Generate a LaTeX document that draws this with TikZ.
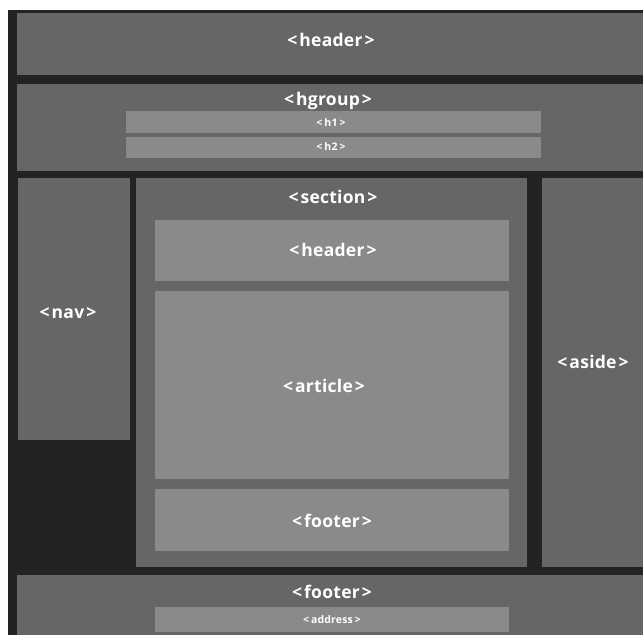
\documentclass[tikz,border=0pt]{standalone}
\usepackage{fontspec}
\setmainfont{Open Sans}
\newfontfamily\tagfont{Open Sans}[LetterSpace=1.5]
\definecolor{frame}{HTML}{232323}
\definecolor{outerbox}{HTML}{666666}
\definecolor{innerbox}{HTML}{8A8A8A}
% an HTML element name in angle brackets
\newcommand{\htmltag}[1]{<\kern2pt#1\kern2pt>}
\begin{document}
\begin{tikzpicture}[x=1pt,y=-1pt,
  box/.style={rectangle, draw=none, inner sep=0pt, anchor=north west},
  outer/.style={box, fill=outerbox},
  inner/.style={box, fill=innerbox},
  caption/.style={text=white, inner sep=0pt, font=\tagfont\fontsize{17.5}{20}\selectfont\bfseries},
  smallcap/.style={text=white, inner sep=0pt, font=\tagfont\fontsize{10.5}{12}\selectfont\bfseries}]
  % page and dark frame
  \useasboundingbox (0,0) rectangle (643,635);
  \fill[white] (0,0) rectangle (643,635);
  \fill[frame] (8,10) rectangle (643,635);

  % page header
  \node[outer, minimum width=626pt, minimum height=62pt] (header) at (17,13) {};
  \node[caption] (headercap) at (331,40) {\htmltag{header}};

  % hgroup with h1 / h2
  \node[outer, minimum width=626pt, minimum height=87pt] (hgroup) at (17,84) {};
  \node[caption] (hgroupcap) at (328,101) {\htmltag{hgroup}};
  \node[inner, minimum width=415pt, minimum height=22pt] (h1) at (126,111) {};
  \node[smallcap] (h1cap) at (331,123) {\htmltag{h1}};
  \node[inner, minimum width=415pt, minimum height=21pt] (h2) at (126,137) {};
  \node[smallcap] (h2cap) at (331,147) {\htmltag{h2}};

  % navigation column
  \node[outer, minimum width=112pt, minimum height=262pt] (nav) at (18,178) {};
  \node[caption] (navcap) at (68,313) {\htmltag{nav}};

  % section with its own header, article and footer
  \node[outer, minimum width=391pt, minimum height=389pt] (section) at (136,178) {};
  \node[caption] (sectioncap) at (333,197) {\htmltag{section}};
  \node[inner, minimum width=354pt, minimum height=61pt] (sheader) at (155,220) {};
  \node[caption] (sheadercap) at (333,250) {\htmltag{header}};
  \node[inner, minimum width=354pt, minimum height=188pt] (article) at (155,291) {};
  \node[caption] (articlecap) at (324,386) {\htmltag{article}};
  \node[inner, minimum width=354pt, minimum height=62pt] (sfooter) at (155,489) {};
  \node[caption] (sfootercap) at (332,521) {\htmltag{footer}};

  % aside column
  \node[outer, minimum width=101pt, minimum height=389pt] (aside) at (542,178) {};
  \node[caption] (asidecap) at (593,362) {\htmltag{aside}};

  % page footer with address
  \node[outer, minimum width=626pt, minimum height=60pt] (footer) at (17,575) {};
  \node[caption] (footercap) at (332,592) {\htmltag{footer}};
  \node[inner, minimum width=354pt, minimum height=25pt] (address) at (155,607) {};
  \node[smallcap] (addresscap) at (332,620) {\htmltag{address}};
\end{tikzpicture}
\end{document}
